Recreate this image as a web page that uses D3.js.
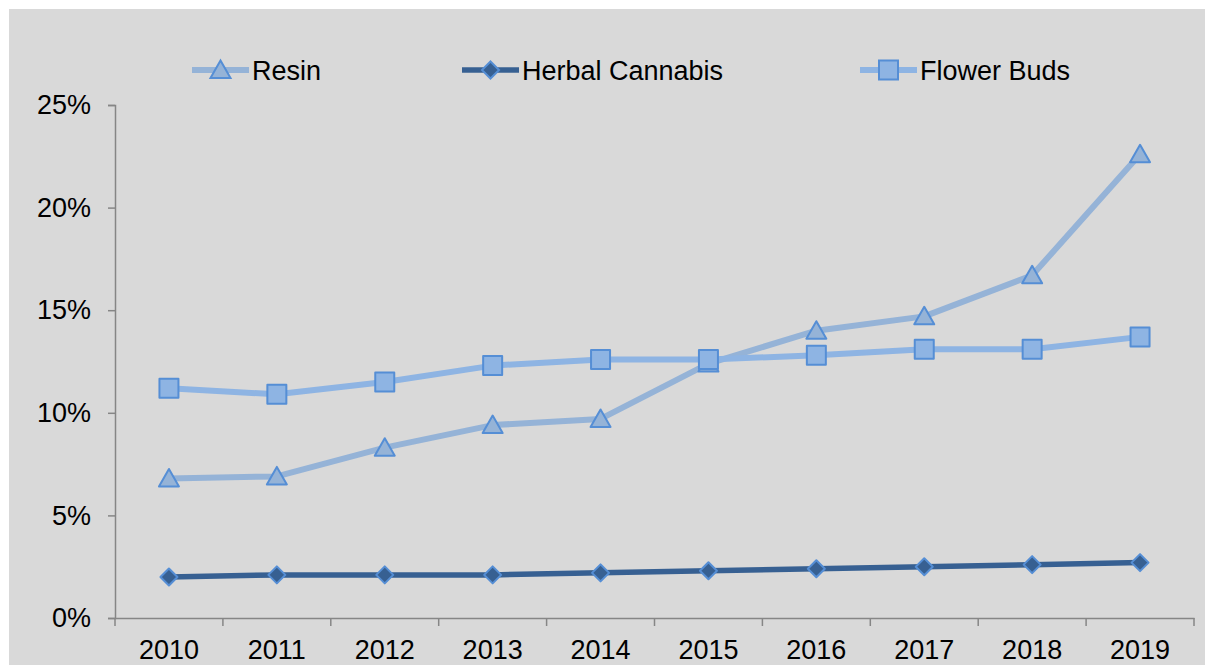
<!DOCTYPE html>
<html>
<head>
<meta charset="utf-8">
<script src="https://cdn.jsdelivr.net/npm/d3@7"></script>
<style>
  html, body { margin: 0; padding: 0; background: #ffffff; }
  svg { display: block; font-family: "Liberation Sans", Arial, sans-serif; }
</style>
</head>
<body>
<svg id="chart" width="1205" height="665"></svg>
<script>
// Share of samples by year
const years = ["2010","2011","2012","2013","2014","2015","2016","2017","2018","2019"];
const resin = [6.8, 6.9, 8.3, 9.4, 9.7, 12.4, 14.0, 14.7, 16.7, 22.6];
const herbalCannabis = [2.0, 2.1, 2.1, 2.1, 2.2, 2.3, 2.4, 2.5, 2.6, 2.7];
const flowerBuds = [11.2, 10.9, 11.5, 12.3, 12.6, 12.6, 12.8, 13.1, 13.1, 13.7];
const yTicks = [0, 5, 10, 15, 20, 25];

const series = [
  { name: "Resin", values: resin, line: "#95b3d7", fill: "#95b3d7", stroke: "#558ed5", shape: "triangle", width: 6 },
  { name: "Herbal Cannabis", values: herbalCannabis, line: "#376092", fill: "#376092", stroke: "#558ed5", shape: "diamond", width: 5.5 },
  { name: "Flower Buds", values: flowerBuds, line: "#8eb4e3", fill: "#8eb4e3", stroke: "#558ed5", shape: "square", width: 6 }
];

const svg = d3.select("#chart");
const fontSize = 27;

// panel background
svg.append("rect").attr("x", 9).attr("y", 9).attr("width", 1196).attr("height", 656).attr("fill", "#d9d9d9");

const plotLeft = 115, plotRight = 1194, plotTop = 105, plotBottom = 618;
const x = d3.scaleBand().domain(years).range([plotLeft, plotRight]);
const y = d3.scaleLinear().domain([0, 25]).range([plotBottom, plotTop]);

const axisColor = "#868686";

// y axis
const yAxis = svg.append("g").attr("transform", `translate(${plotLeft},0)`)
  .call(d3.axisLeft(y).tickValues(yTicks).tickSize(7).tickPadding(17).tickFormat(d => d + "%"));
yAxis.select(".domain").attr("stroke", axisColor).attr("stroke-width", 1.5);
yAxis.selectAll(".tick line").attr("stroke", axisColor).attr("stroke-width", 1.5);
yAxis.selectAll(".tick text").attr("fill", "#000").attr("font-size", fontSize).attr("font-family", "Liberation Sans, Arial, sans-serif");

// x axis with ticks at category boundaries
const xAxis = svg.append("g").attr("transform", `translate(0,${plotBottom})`)
  .call(d3.axisBottom(x).tickSize(0).tickPadding(22));
xAxis.select(".domain").attr("stroke", axisColor).attr("stroke-width", 1.5);
xAxis.selectAll(".tick text").attr("fill", "#000").attr("font-size", fontSize).attr("font-family", "Liberation Sans, Arial, sans-serif");
const bounds = years.map(d => x(d)).concat([x(years[years.length - 1]) + x.bandwidth()]);
xAxis.selectAll("line.bound").data(bounds).enter().append("line")
  .attr("class", "bound")
  .attr("x1", d => d).attr("x2", d => d).attr("y1", 0).attr("y2", 8)
  .attr("stroke", axisColor).attr("stroke-width", 1.5);

const cx = d => x(d) + x.bandwidth() / 2;

function symbolPath(shape) {
  if (shape === "triangle") return "M0,-9.5L10,8L-10,8Z";
  if (shape === "diamond") return "M0,-8.5L8.5,0L0,8.5L-8.5,0Z";
  return "M-9.5,-9.5H9.5V9.5H-9.5Z";
}

// lines
const lineGen = d3.line().x(d => cx(d.year)).y(d => y(d.v));
series.forEach(s => {
  const pts = years.map((yr, i) => ({ year: yr, v: s.values[i] }));
  svg.append("path").datum(pts).attr("d", lineGen)
    .attr("fill", "none").attr("stroke", s.line).attr("stroke-width", s.width)
    .attr("stroke-linejoin", "round");
});
// markers
series.forEach(s => {
  const pts = years.map((yr, i) => ({ year: yr, v: s.values[i] }));
  svg.append("g").selectAll("path").data(pts).enter().append("path")
    .attr("d", symbolPath(s.shape))
    .attr("transform", d => `translate(${cx(d.year)},${y(d.v)})`)
    .attr("fill", s.fill).attr("stroke", s.stroke).attr("stroke-width", 2)
    .attr("stroke-linejoin", "round");
});

// legend
const legendX = [192, 462, 860];
const legendY = 70;
const lg = svg.append("g");
series.forEach((s, i) => {
  const g = lg.append("g").attr("transform", `translate(${legendX[i]},${legendY})`);
  g.append("line").attr("x1", 0).attr("x2", 57).attr("y1", 0).attr("y2", 0)
    .attr("stroke", s.line).attr("stroke-width", s.width);
  g.append("path").attr("d", symbolPath(s.shape))
    .attr("transform", `translate(28.5,0)`)
    .attr("fill", s.fill).attr("stroke", s.stroke).attr("stroke-width", 2);
  g.append("text").attr("x", 60).attr("y", 9.5).attr("font-size", fontSize).attr("fill", "#000")
    .text(s.name);
});
</script>
</body>
</html>
